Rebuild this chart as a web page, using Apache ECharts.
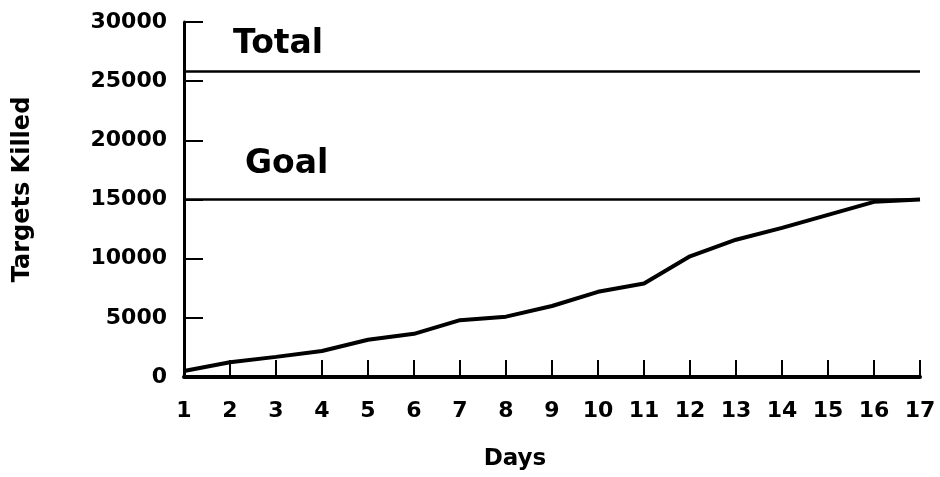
<!DOCTYPE html>
<html>
<head>
    <meta charset="utf-8">
    <title>Targets Killed</title>
    <script src="https://cdn.jsdelivr.net/npm/echarts@6/dist/echarts.min.js"></script>
    <style>
        html, body { margin: 0; padding: 0; background: #fff; }
    </style>
</head>
<body>
    <div id="main" style="width: 940px;height:477px;"></div>
    <script type="text/javascript">
        // data
        var days = [1, 2, 3, 4, 5, 6, 7, 8, 9, 10, 11, 12, 13, 14, 15, 16, 17];
        var killed = [500, 1250, 1700, 2200, 3150, 3650, 4800, 5100, 6000, 7200, 7900, 10200, 11600, 12600, 13700, 14800, 15000];
        var totalTargets = 25800;
        var goalTargets = 15000;

        // the scan uses a wide bold sans, DejaVu Sans Bold is the closest
        var font = '"DejaVu Sans", "Liberation Sans", Arial, sans-serif';
        var myChart = echarts.init(document.getElementById('main'));

        var option = {
            backgroundColor: '#fff',
            animation: false,
            grid: { left: 184, right: 20, top: 22, bottom: 100 },
            xAxis: {
                type: 'value',
                min: 1,
                max: 17,
                interval: 1,
                name: 'Days',
                nameLocation: 'middle',
                nameGap: 71,
                nameTextStyle: {
                    color: '#000', fontFamily: font, fontWeight: 'bold', fontSize: 23,
                    padding: [0, 74, 0, 0]
                },
                axisLine: { lineStyle: { color: '#000', width: 4 } },
                axisTick: { inside: true, length: 17, lineStyle: { color: '#000', width: 2 } },
                axisLabel: { color: '#000', fontFamily: font, fontWeight: 'bold', fontSize: 22, margin: 23 },
                splitLine: { show: false }
            },
            yAxis: {
                type: 'value',
                min: 0,
                max: 30000,
                interval: 5000,
                name: 'Targets Killed',
                nameLocation: 'middle',
                nameGap: 149,
                nameTextStyle: {
                    color: '#000', fontFamily: font, fontWeight: 'bold', fontSize: 24,
                    padding: [0, 0, 0, 20]
                },
                axisLine: { lineStyle: { color: '#000', width: 3 } },
                axisTick: { inside: true, length: 19, lineStyle: { color: '#000', width: 2 } },
                axisLabel: {
                    color: '#000', fontFamily: font, fontWeight: 'bold', fontSize: 22, margin: 17,
                    formatter: function (v) { return String(v); }
                },
                splitLine: { show: false }
            },
            graphic: [
                { type: 'text', left: 233, top: 28, style: { text: 'Total', fill: '#000', font: 'bold 33px ' + font } },
                { type: 'text', left: 245, top: 148, style: { text: 'Goal', fill: '#000', font: 'bold 33px ' + font } }
            ],
            series: [{
                type: 'line',
                data: days.map(function (d, i) { return [d, killed[i]]; }),
                symbol: 'none',
                lineStyle: { color: '#000', width: 4 },
                markLine: {
                    silent: true,
                    symbol: 'none',
                    label: { show: false },
                    lineStyle: { color: '#000', width: 2.5, type: 'solid' },
                    data: [{ yAxis: totalTargets }, { yAxis: goalTargets }]
                }
            }]
        };
        myChart.setOption(option);
    </script>
</body>
</html>
